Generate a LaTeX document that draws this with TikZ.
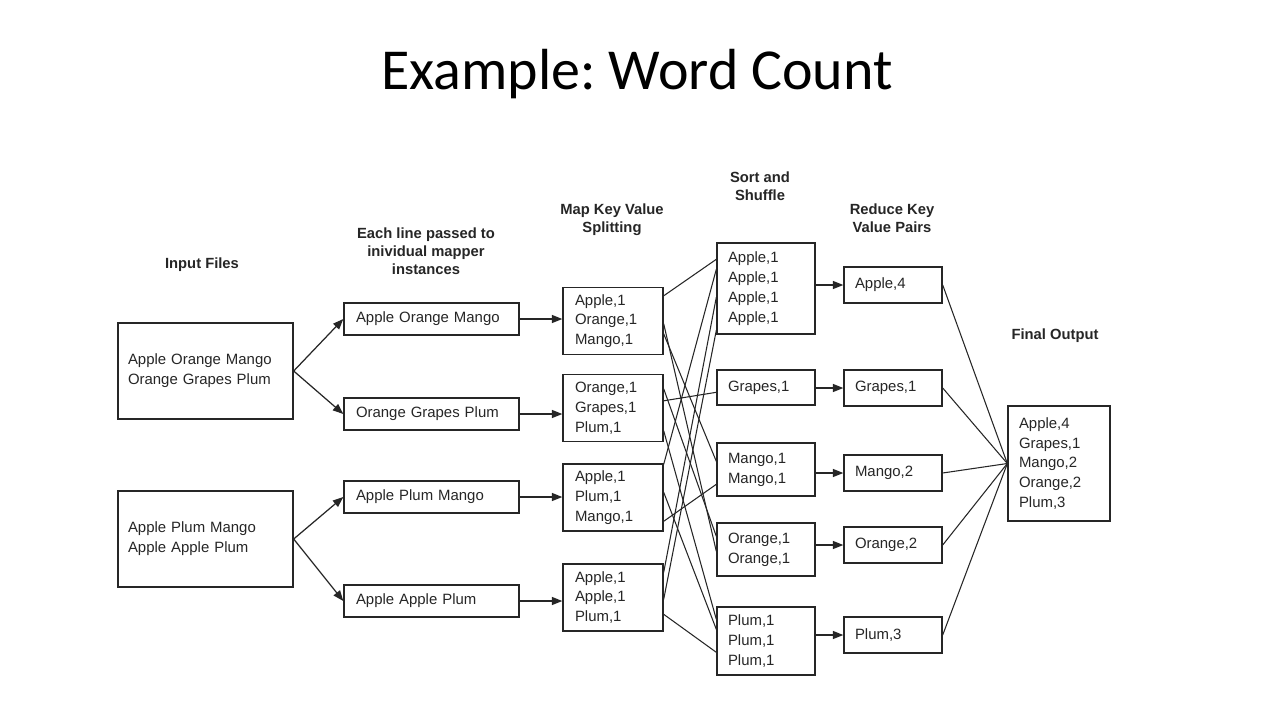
\documentclass[tikz,border=0pt]{standalone}
\usepackage{fontspec}
\setmainfont{Liberation Sans}
\newfontfamily\titlefont{Carlito}
\usepackage{tikz}
\usetikzlibrary{positioning,arrows.meta,calc}
\definecolor{ink}{HTML}{262626}
\frenchspacing
\tikzset{
    box/.style={rectangle, draw=ink, line width=0.8pt, align=left, inner ysep=0pt, font=\fontsize{8.5}{11.3}\selectfont, text=ink},
    filebox/.style={box, text width=3.1cm, inner xsep=0.2cm, minimum height=1.92cm},
    splitbox/.style={box, text width=3.02cm, inner xsep=0.24cm, minimum height=0.64cm},
    mapbox/.style={box, text width=1.52cm, inner xsep=0.24cm, minimum height=1.34cm},
    shufbox/.style={box, text width=1.52cm, inner xsep=0.22cm},
    redbox/.style={box, text width=1.52cm, inner xsep=0.22cm, minimum height=0.72cm},
    header/.style={align=center, font=\bfseries\fontsize{8.4}{10.2}\selectfont, text=ink},
    arrow/.style={-{Triangle[length=6pt, width=4.6pt]}, line width=0.7pt, draw=ink},
    link/.style={line width=0.6pt, draw=ink}
}
\begin{document}
\begin{tikzpicture}[x=0.02cm, y=-0.02cm]
    \useasboundingbox[fill=white] (0,0) rectangle (1280,720);
    \node[anchor=base, font=\titlefont\fontsize{33}{40}\selectfont, text=black] (title) at (637,89) {Example: Word Count};

    % column headers
    \node[header] (hinput) at (202,265) {Input Files};
    \node[header] (hsplit) at (426,251) {Each line passed to\\inividual mapper\\instances};
    \node[header] (hmap) at (612,220) {Map Key Value\\Splitting};
    \node[header] (hshuffle) at (760,186) {Sort and\\Shuffle};
    \node[header] (hreduce) at (892,218) {Reduce Key\\Value Pairs};
    \node[header] (hfinal) at (1055,336) {Final Output};

    % input files
    \node[filebox] (file1) at (205.5,371) {Apple Orange Mango\\Orange Grapes Plum};
    \node[filebox] (file2) at (205.5,539) {Apple Plum Mango\\Apple Apple Plum};

    % lines handed to the mappers
    \node[splitbox] (split1) at (431.5,319) {Apple Orange Mango};
    \node[splitbox] (split2) at (431.5,414) {Orange Grapes Plum};
    \node[splitbox] (split3) at (431.5,497) {Apple Plum Mango};
    \node[splitbox] (split4) at (431.5,601) {Apple Apple Plum};

    % mapper output
    \node[mapbox] (map1) at (613,321) {Apple,1\\Orange,1\\Mango,1};
    \node[mapbox] (map2) at (613,408) {Orange,1\\Grapes,1\\Plum,1};
    \node[mapbox] (map3) at (613,497.5) {Apple,1\\Plum,1\\Mango,1};
    \node[mapbox] (map4) at (613,597.5) {Apple,1\\Apple,1\\Plum,1};

    % sort and shuffle
    \node[shufbox, minimum height=1.82cm] (sapple) at (766,288.5) {Apple,1\\Apple,1\\Apple,1\\Apple,1};
    \node[shufbox, minimum height=0.7cm] (sgrapes) at (766,387.5) {Grapes,1};
    \node[shufbox, minimum height=1.06cm] (smango) at (766,469.5) {Mango,1\\Mango,1};
    \node[shufbox, minimum height=1.06cm] (sorange) at (766,549.5) {Orange,1\\Orange,1};
    \node[shufbox, minimum height=1.36cm] (splum) at (766,641) {Plum,1\\Plum,1\\Plum,1};

    % reducers
    \node[redbox] (rapple) at (893,285) {Apple,4};
    \node[redbox] (rgrapes) at (893,388) {Grapes,1};
    \node[redbox] (rmango) at (893,473) {Mango,2};
    \node[redbox] (rorange) at (893,545) {Orange,2};
    \node[redbox] (rplum) at (893,635) {Plum,3};

    % final output
    \node[box, text width=1.6cm, inner xsep=0.22cm, minimum height=2.3cm] (final) at (1059,463.5) {Apple,4\\Grapes,1\\Mango,2\\Orange,2\\Plum,3};

    % connectors
    \draw[arrow] (file1.east) -- (split1.west);
    \draw[arrow] (file1.east) -- (split2.west);
    \draw[arrow] (file2.east) -- (split3.west);
    \draw[arrow] (file2.east) -- (split4.west);
    \foreach \i in {1,...,4}
        \draw[arrow] (split\i.east) -- (split\i.east -| map\i.west);
    \foreach \m/\a/\s/\b in {map1/9/sapple/17, map1/37/sorange/29, map1/47/smango/19,
        map2/15/sorange/14, map2/27/sgrapes/23, map2/57/splum/13,
        map3/1/sapple/27, map3/29/splum/23, map3/58/smango/42,
        map4/9/sapple/55, map4/36/sapple/88, map4/51/splum/46}
        \draw[link] ($(\m.north east)+(0,\a)$) -- ($(\s.north west)+(0,\b)$);
    \foreach \k in {apple,grapes,mango,orange,plum} {
        \draw[arrow] (s\k.east |- r\k.west) -- (r\k.west);
        \draw[link] (r\k.east) -- (final.west);
    }
\end{tikzpicture}
\end{document}
